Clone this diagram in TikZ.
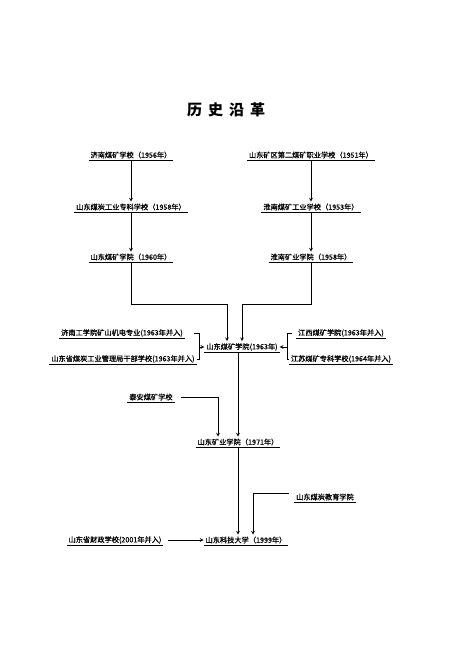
\documentclass[tikz,border=0pt]{standalone}
\usepackage{fontspec}
\newfontfamily\cjk[FakeBold=0.8]{Noto Sans CJK SC}
\newfontfamily\cjktitle{Noto Sans CJK SC}
\usetikzlibrary{calc}

\newcommand{\schoolfont}{\cjk\fontsize{7.2pt}{9pt}\selectfont}

\tikzset{
  school/.style={font=\schoolfont, inner sep=1.8pt,
    append after command={\pgfextra{\let\lastschool\tikzlastnode}
      (\lastschool.south west) edge[line width=0.6pt] (\lastschool.south east)}},
  link/.style={line width=0.7pt},
}

\begin{document}
\begin{tikzpicture}[x=1pt,y=-1pt,>=stealth]
    \useasboundingbox (0,0) rectangle (450,657);

    \node (title) at (226,110) {\cjktitle\bfseries\fontsize{15pt}{18pt}\selectfont 历\hspace{6pt}史\hspace{6pt}沿\hspace{6pt}革};

    % two branches
    \node[school] (j56) at (131,155) {济南煤矿学校（1956年）};
    \node[school] (sd58) at (131,207) {山东煤炭工业专科学校（1958年）};
    \node[school] (sd60) at (131,257) {山东煤矿学院（1960年）};
    \draw[link,->] (j56) -- (sd58);
    \draw[link,->] (sd58) -- (sd60);

    \node[school] (s51) at (311,155) {山东矿区第二煤矿职业学校（1951年）};
    \node[school] (hn53) at (311,207) {淮南煤矿工业学校（1953年）};
    \node[school] (hn58) at (311,257) {淮南矿业学院（1958年）};
    \draw[link,->] (s51) -- (hn53);
    \draw[link,->] (hn53) -- (hn58);

    % 1963
    \node[school] (sd63) at (242,347) {山东煤矿学院(1963年)};
    \coordinate (ml) at (227,304);
    \coordinate (mr) at (242,304);
    \draw[link,->] (sd60) |- (ml) -- (ml |- sd63.north);
    \draw[link,->] (hn58) |- (mr) -- (mr |- sd63.north);

    \node[school] (jg) at (122,333) {济南工学院矿山机电专业(1963年并入)};
    \node[school] (gb) at (123,359) {山东省煤炭工业管理局干部学校(1963年并入)};
    \coordinate (lb) at (199,347);
    \draw[link] ([xshift=-5]lb |- jg.east) -- (lb |- jg.east) -- (lb |- gb.east) -- (gb.east);
    \draw[link,->] (lb) -- (sd63);

    \node[school] (jx) at (341,333) {江西煤矿学院(1963年并入)};
    \node[school] (js) at (341,359) {江苏煤矿专科学校(1964年并入)};
    \coordinate (rb) at (287,347);
    \draw[link] ([xshift=5]rb |- jx.west) -- (rb |- jx.west) -- (rb |- js.west) -- (js.west);
    \draw[link,->] (rb) -- (sd63);

    % 1971
    \node[school] (ta) at (151,397) {泰安煤矿学校};
    \node[school] (sd71) at (238,442) {山东矿业学院（1971年）};
    \coordinate (tk) at (218,397);
    \draw[link,->] (sd63.south -| sd71) -- (sd71);
    \draw[link,->] ([xshift=6]ta.east) -- (tk) -- (tk |- sd71.north);

    % 1999
    \node[school] (jy) at (325,497) {山东煤炭教育学院};
    \node[school] (kd) at (246,540) {山东科技大学（1999年）};
    \node[school] (cz) at (115,540) {山东省财政学校(2001年并入)};
    \coordinate (jk) at (253,493);
    \draw[link,->] (sd71) -- (kd.north -| sd71);
    \draw[link,->] ([xshift=-5]jy.west |- jk) -- (jk) -- (jk |- kd.north);
    \draw[link,->] ([xshift=5]cz.east) -- (kd);
\end{tikzpicture}
\end{document}
